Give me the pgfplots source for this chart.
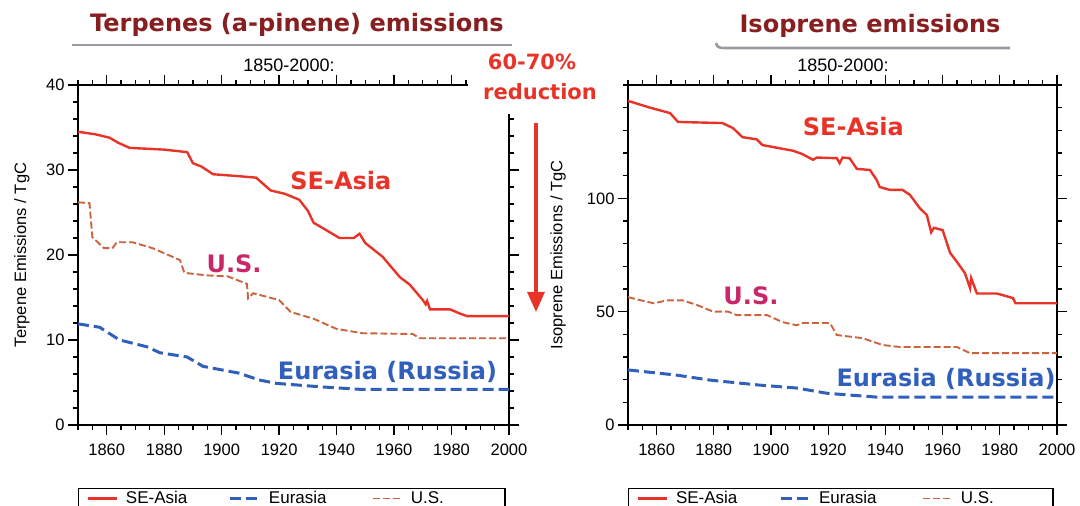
\documentclass[border=0pt]{standalone}
\usepackage{fontspec}
\setmainfont{Liberation Sans}
\newfontfamily\slide{DejaVu Sans}
\usepackage{pgfplots}
\pgfplotsset{compat=1.18}
\usetikzlibrary{arrows.meta}

\definecolor{seasia}{RGB}{232,52,40}
\definecolor{eurasia}{RGB}{48,96,188}
\definecolor{usline}{RGB}{204,98,62}
\definecolor{uslabel}{RGB}{200,40,105}
\definecolor{titlered}{RGB}{135,30,32}
\definecolor{rulegray}{RGB}{150,156,162}

\tikzset{plotlabel/.style={font=\fontsize{24}{26}\slide\bfseries}}

\pgfplotsset{
  emis/.style={
    scale only axis, height=340pt,
    anchor=south west,
    xmin=1850, xmax=2000,
    xtick={1860,1880,...,2000},
    minor xtick={1850,1855,...,2000},
    tick align=outside,
    major tick length=10pt, minor tick length=5pt,
    axis line style={line width=1.8pt},
    every tick/.style={black, line width=1.3pt},
    tick label style={font=\fontsize{16.5}{18}\selectfont},
    /pgf/number format/assume math mode=true,
    /pgf/number format/1000 sep={},
    xticklabel style={yshift=-5pt},
    ylabel style={font=\fontsize{16.5}{18}\selectfont, anchor=center},
    legend columns=3,
    legend image code/.code={\draw (0pt,0pt) -- (29pt,0pt);},
    legend style={at={(0,-0.1853)}, anchor=north west, draw=black,
      line width=1.2pt, inner xsep=8pt, inner ysep=1pt,
      font=\fontsize{17}{19}\selectfont,
      /tikz/every odd column/.style={column sep=6pt}},
  },
  seline/.style={seasia, line width=2.4pt},
  euline/.style={eurasia, line width=3pt, dash pattern=on 11pt off 5pt},
  usl/.style={usline, line width=1.9pt, dash pattern=on 7pt off 3pt},
}

\begin{document}
\begin{tikzpicture}
\path[use as bounding box] (0pt,0pt) rectangle (1080pt,506pt);

% ---- left: terpenes ----
\begin{axis}[emis, at={(78pt,81pt)}, width=431pt,
  ymin=0, ymax=40, ytick={0,10,...,40}, minor ytick={0,2,...,40},
  ylabel={Terpene Emissions / TgC},
  ylabel style={at={(axis description cs:-0.13,0.5)}}]

\addplot[seline] coordinates {
 (1850,34.5) (1856,34.2) (1861,33.8) (1864,33.2) (1868,32.6) (1880,32.4)
 (1888,32.1) (1890,30.8) (1893,30.4) (1897,29.5) (1905,29.3) (1912,29.1)
 (1917,27.6) (1922,27.2) (1927,26.5) (1930,25.2) (1932,23.8) (1936,23.0)
 (1941,22.0) (1946,22.0) (1948,22.5) (1950,21.4) (1953,20.6) (1956,19.8)
 (1959,18.6) (1962,17.4) (1965.5,16.5) (1968,15.5) (1970,14.7) (1971,14.2)
 (1971.5,14.6) (1972.5,13.6) (1979.5,13.6) (1983,13.1) (1985.5,12.8) (2000,12.8)};
\addlegendentry{\makebox[101pt][l]{SE-Asia}}

\addplot[euline] coordinates {
 (1850,11.9) (1857.5,11.5) (1864.5,10.0) (1874,9.2) (1878.5,8.5) (1888,8.0)
 (1893.5,6.9) (1906,6.1) (1913,5.3) (1919,4.9) (1934,4.5) (1948,4.2) (2000,4.2)};
\addlegendentry{\makebox[101pt][l]{Eurasia}}

\addplot[usl] coordinates {
 (1850,26.2) (1854,26.1) (1855,22.1) (1859,20.8) (1862,20.8) (1863.5,21.5)
 (1869,21.5) (1876,20.8) (1885.5,19.4) (1887,17.9) (1895,17.6) (1902,17.5)
 (1908.8,16.6) (1909.2,14.9) (1911,15.5) (1920,14.7) (1924,13.3) (1932,12.5)
 (1940,11.3) (1949,10.8) (1966.5,10.7) (1969,10.2) (2000,10.2)};
\addlegendentry{\makebox[84pt][l]{U.S.}}

\node[plotlabel, text=seasia] at (axis cs:1941.5,28.8) {SE-Asia};
\node[plotlabel, text=uslabel] at (axis cs:1904.3,19.0) {U.S.};
\node[plotlabel, text=eurasia] at (axis cs:1957.7,6.2) {Eurasia (Russia)};
\end{axis}

% ---- right: isoprene ----
\begin{axis}[emis, at={(628pt,81pt)}, width=429pt,
  ymin=0, ymax=150, ytick={0,50,100}, minor ytick={0,10,...,150},
  ylabel={Isoprene Emissions / TgC},
  ylabel style={at={(axis description cs:-0.163,0.5)}}]

\addplot[seline] coordinates {
 (1850,143) (1857.7,140) (1864.7,137.6) (1867.5,133.7) (1883,133.2)
 (1886.7,131) (1890,127) (1895,126) (1897,123.5) (1907.7,121) (1911,119.5)
 (1914.7,117) (1916,118) (1923,117.7) (1924,115.5) (1925,118) (1927.5,117.7)
 (1930,113) (1934.6,112.5) (1937,108) (1938,105) (1941.6,103.7) (1946,103.7)
 (1948.6,101.5) (1952,95.7) (1954.5,92.6) (1956,85) (1957,87) (1960,86)
 (1962.6,76) (1965,72) (1967.8,67) (1969.6,60.4) (1970,64.8) (1972,58)
 (1979,58) (1984.6,56) (1985.5,53.7) (2000,53.7)};
\addlegendentry{\makebox[101pt][l]{SE-Asia}}

\addplot[euline] coordinates {
 (1850,24.3) (1867,22) (1878.7,19.8) (1896,17.6) (1909,16.3) (1919.6,14)
 (1927.6,13.2) (1937,12.3) (2000,12.3)};
\addlegendentry{\makebox[101pt][l]{Eurasia}}

\addplot[usl] coordinates {
 (1850,56.4) (1854.5,55) (1859,53.7) (1863.7,55) (1869,55) (1874,53)
 (1879.8,50) (1885,50) (1888,48.5) (1898.6,48.5) (1904,45.4) (1909,44)
 (1911,45) (1920.6,45) (1923,39.7) (1932,38.3) (1939,35.3) (1945,34.4)
 (1965,34.4) (1969.6,31.7) (2000,31.7)};
\addlegendentry{\makebox[82pt][l]{U.S.}}

\node[plotlabel, text=seasia] at (axis cs:1928.8,131.5) {SE-Asia};
\node[plotlabel, text=uslabel] at (axis cs:1893,56.9) {U.S.};
\node[plotlabel, text=eurasia] at (axis cs:1961.2,20.3) {Eurasia (Russia)};
\end{axis}

% ---- titles and annotations ----
\node[anchor=base, text=titlered, font=\fontsize{24}{26}\slide\bfseries] at (297pt,474pt) {Terpenes (a-pinene) emissions};
\node[anchor=base, text=titlered, font=\fontsize{24}{26}\slide\bfseries] at (870pt,473pt) {Isoprene emissions};
\draw[rulegray, line width=2.6pt] (72pt,461pt) -- (512pt,461pt);
\draw[rulegray, line width=2.6pt] (716pt,463pt) .. controls (717pt,459pt) and (719pt,458pt) .. (724pt,458pt) -- (1010pt,458pt);

\node[anchor=base, font=\fontsize{18}{20}\selectfont] at (289pt,434pt) {1850-2000:};
\node[anchor=base, font=\fontsize{18}{20}\selectfont] at (843pt,434pt) {1850-2000:};

\fill[white] (468pt,392pt) rectangle (600pt,456pt);
\node[anchor=base, text=seasia, font=\fontsize{21}{23}\slide\bfseries] at (532pt,436pt) {60-70\%};
\node[anchor=base, text=seasia, font=\fontsize{21}{23}\slide\bfseries] at (540pt,406pt) {reduction};
\draw[seasia, line width=3.2pt, -{Triangle[width=17pt,length=20pt]}] (536pt,383pt) -- (536pt,194pt);
\end{tikzpicture}
\end{document}
